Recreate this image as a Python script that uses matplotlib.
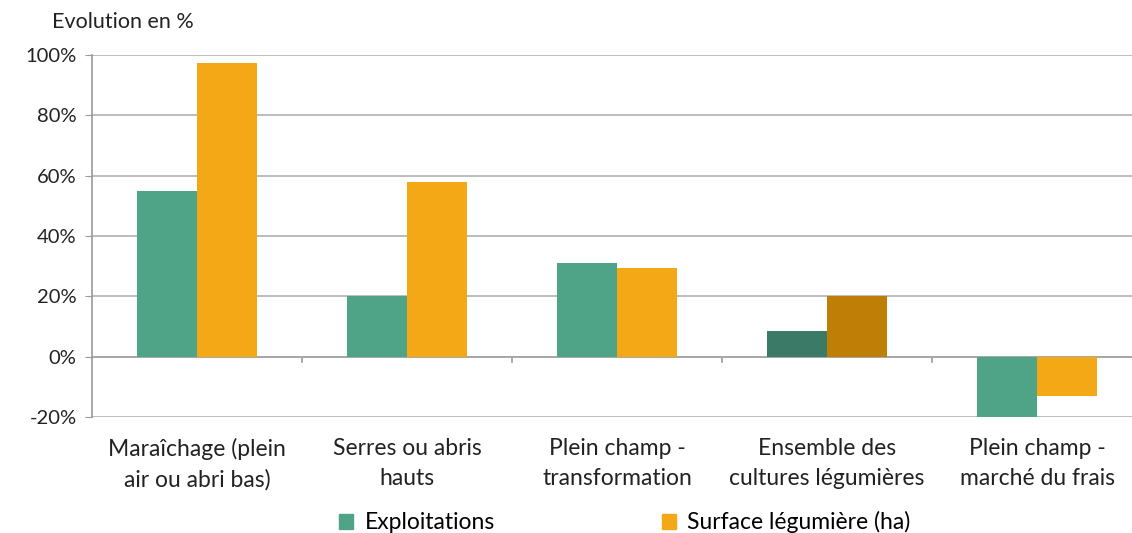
import numpy as np
import matplotlib.pyplot as plt

plt.rcParams['font.family'] = ['Lato', 'DejaVu Sans']

# data
categories = ["Maraîchage (plein\nair ou abri bas)", "Serres ou abris\nhauts",
              "Plein champ -\ntransformation", "Ensemble des\ncultures légumières",
              "Plein champ -\nmarché du frais"]
exploitations = [55, 20, 31, 8.6, -20]
surface = [97.5, 58, 29.5, 20, -13]
yticks = [-20, 0, 20, 40, 60, 80, 100]

green = '#4FA387'
orange = '#F5A816'
green_dark = '#3B7A66'
orange_dark = '#BF7F06'

fig = plt.figure(figsize=(11.32, 5.33), dpi=100)
# the plot area runs a little past the right edge of the picture
ax = fig.add_axes([92 / 1132, 0.2176, 1050 / 1132, 0.6792])

x = np.arange(len(categories))
w = 0.286
gcols = [green_dark if i == 3 else green for i in x]
ocols = [orange_dark if i == 3 else orange for i in x]
ax.bar(x - w / 2, exploitations, w, color=gcols, zorder=3, label='Exploitations')
ax.bar(x + w / 2, surface, w, color=ocols, zorder=3, label='Surface légumière (ha)')

ax.set_ylim(-20, 100)
ax.set_xlim(-0.5, len(categories) - 0.5)
ax.set_yticks(yticks)
ax.set_yticklabels([f"{v}%" for v in yticks], fontsize=14.5, color='#222222')
ax.yaxis.grid(True, color='#B0B0B0', linewidth=1.2, zorder=0)
ax.tick_params(axis='y', length=5, color='#999999', pad=6)

ax.set_xticks([])
for b in np.arange(0.5, len(categories) - 0.5, 1):
    ax.plot([b, b], [0, -1.8], color='#999999', linewidth=1.2, zorder=2)
ax.axhline(0, color='#A8A8A8', linewidth=1.4, zorder=2)
for i, lab in enumerate(categories):
    ax.text(i, -26.8, lab, ha='center', va='top', fontsize=16.5, color='#222222',
            linespacing=1.55)

for s in ['top', 'right', 'bottom']:
    ax.spines[s].set_visible(False)
ax.spines['left'].set_color('#999999')
ax.spines['left'].set_linewidth(1.2)

fig.text(52 / 1132, 0.958, "Evolution en %", fontsize=15.5, color='#222222', va='center')

h1 = plt.Rectangle((0, 0), 1, 1, color=green)
h2 = plt.Rectangle((0, 0), 1, 1, color=orange)
fig.legend([h1, h2], ['Exploitations', 'Surface légumière (ha)'], loc='center',
           bbox_to_anchor=(0.552, 0.02), ncol=2, frameon=False, fontsize=16.5,
           handlelength=0.6, handleheight=0.6, handletextpad=0.5, columnspacing=7.3)

fig.savefig('out.png', dpi=100)
